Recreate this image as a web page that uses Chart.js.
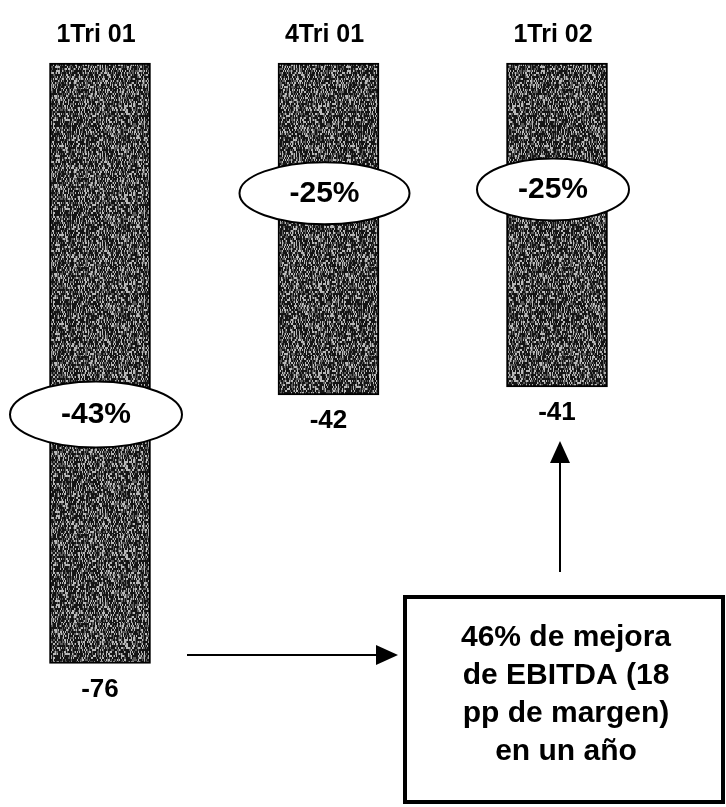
<!DOCTYPE html>
<html>
<head>
<meta charset="utf-8">
<script src="https://cdn.jsdelivr.net/npm/chart.js@4"></script>
<style>
  html, body { margin: 0; padding: 0; background: #fff; }
  #wrap { width: 726px; height: 807px; }
</style>
</head>
<body>
<div id="wrap"><canvas id="ebitdaChart" width="726" height="807"></canvas></div>
<script>
// data
const categories = ['1Tri 01', '4Tri 01', '1Tri 02'];
const ebitda = [-76, -42, -41];
const changeLabels = ['-43%', '-25%', '-25%'];
const boxLines = ['46% de mejora', 'de EBITDA (18', 'pp de margen)', 'en un año'];

// where the % badges sit, in y-axis units, and their half sizes in px
const badgeAt = [-44.5, -16.5, -16];
const badgeSize = [[86, 33], [85, 31], [76, 31]];

const FONT = '"Liberation Sans", Arial, sans-serif';

// grainy grey fill like the scanned bars
function stipple() {
    const c = document.createElement('canvas');
    c.width = 97; c.height = 89;
    const g = c.getContext('2d');
    const img = g.createImageData(c.width, c.height);
    for (let y = 0; y < c.height; y++) {
        for (let x = 0; x < c.width; x++) {
            let h = (x * 374761393 + Math.floor(y / 2) * 668265263) | 0;
            h = Math.imul(h ^ (h >>> 13), 1274126177);
            h = (h ^ (h >>> 16)) & 255;
            const v = h < 130 ? 20 : (h < 195 ? 90 : 185);
            const i = (y * c.width + x) * 4;
            img.data[i] = img.data[i + 1] = img.data[i + 2] = v;
            img.data[i + 3] = 255;
        }
    }
    g.putImageData(img, 0, 0);
    return g.createPattern(c, 'repeat');
}

function arrow(ctx, x1, y1, x2, y2) {
    const a = Math.atan2(y2 - y1, x2 - x1);
    const len = 22, w = 10;
    ctx.beginPath();
    ctx.moveTo(x1, y1);
    ctx.lineTo(x2 - Math.cos(a) * len, y2 - Math.sin(a) * len);
    ctx.lineWidth = 2;
    ctx.stroke();
    ctx.beginPath();
    ctx.moveTo(x2, y2);
    ctx.lineTo(x2 - Math.cos(a) * len - Math.sin(a) * w, y2 - Math.sin(a) * len + Math.cos(a) * w);
    ctx.lineTo(x2 - Math.cos(a) * len + Math.sin(a) * w, y2 - Math.sin(a) * len - Math.cos(a) * w);
    ctx.closePath();
    ctx.fill();
}

const annotations = {
    id: 'annotations',
    afterDatasetsDraw(chart) {
        const ctx = chart.ctx;
        const xs = chart.scales.x, ys = chart.scales.y;
        const bars = chart.getDatasetMeta(0).data;
        ctx.save();
        ctx.fillStyle = '#000';
        ctx.strokeStyle = '#000';
        ctx.textAlign = 'center';
        ctx.textBaseline = 'middle';

        // category names over the bars
        ctx.font = 'bold 25px ' + FONT;
        categories.forEach((c, i) => {
            ctx.fillText(c, xs.getPixelForValue(i) - 4, chart.chartArea.top - 28);
        });

        // values under the bars
        ctx.font = 'bold 26px ' + FONT;
        bars.forEach((b, i) => {
            ctx.fillText(String(ebitda[i]), b.x, b.y + 26);
        });

        // % badges
        changeLabels.forEach((t, i) => {
            const cx = xs.getPixelForValue(i) - 4, cy = ys.getPixelForValue(badgeAt[i]);
            ctx.beginPath();
            ctx.ellipse(cx, cy, badgeSize[i][0], badgeSize[i][1], 0, 0, Math.PI * 2);
            ctx.fillStyle = '#fff';
            ctx.fill();
            ctx.lineWidth = 2;
            ctx.stroke();
            ctx.fillStyle = '#000';
            ctx.font = 'bold 30px ' + FONT;
            ctx.fillText(t, cx, cy);
        });

        // arrows
        arrow(ctx, 187, 655, 398, 655);
        arrow(ctx, 560, 572, 560, 441);

        // text box
        ctx.lineWidth = 4;
        ctx.strokeRect(405, 597, 318, 205);
        ctx.font = 'bold 30px ' + FONT;
        boxLines.forEach((l, i) => {
            ctx.fillText(l, 566, 638 + i * 38);
        });
        ctx.restore();
    }
};

new Chart(document.getElementById('ebitdaChart'), {
    type: 'bar',
    data: {
        labels: categories,
        datasets: [{
            label: 'EBITDA',
            data: ebitda,
            backgroundColor: stipple(),
            borderColor: '#000',
            borderWidth: 2,
            borderSkipped: false,
            barThickness: 101,
            clip: false
        }]
    },
    options: {
        responsive: false,
        animation: false,
        layout: { padding: { left: 100, right: 169, top: 63, bottom: 33 } },
        plugins: { legend: { display: false }, tooltip: { enabled: false } },
        scales: {
            x: { display: false, offset: false },
            y: { display: false, min: -90, max: 0 }
        }
    },
    plugins: [annotations]
});
</script>
</body>
</html>
